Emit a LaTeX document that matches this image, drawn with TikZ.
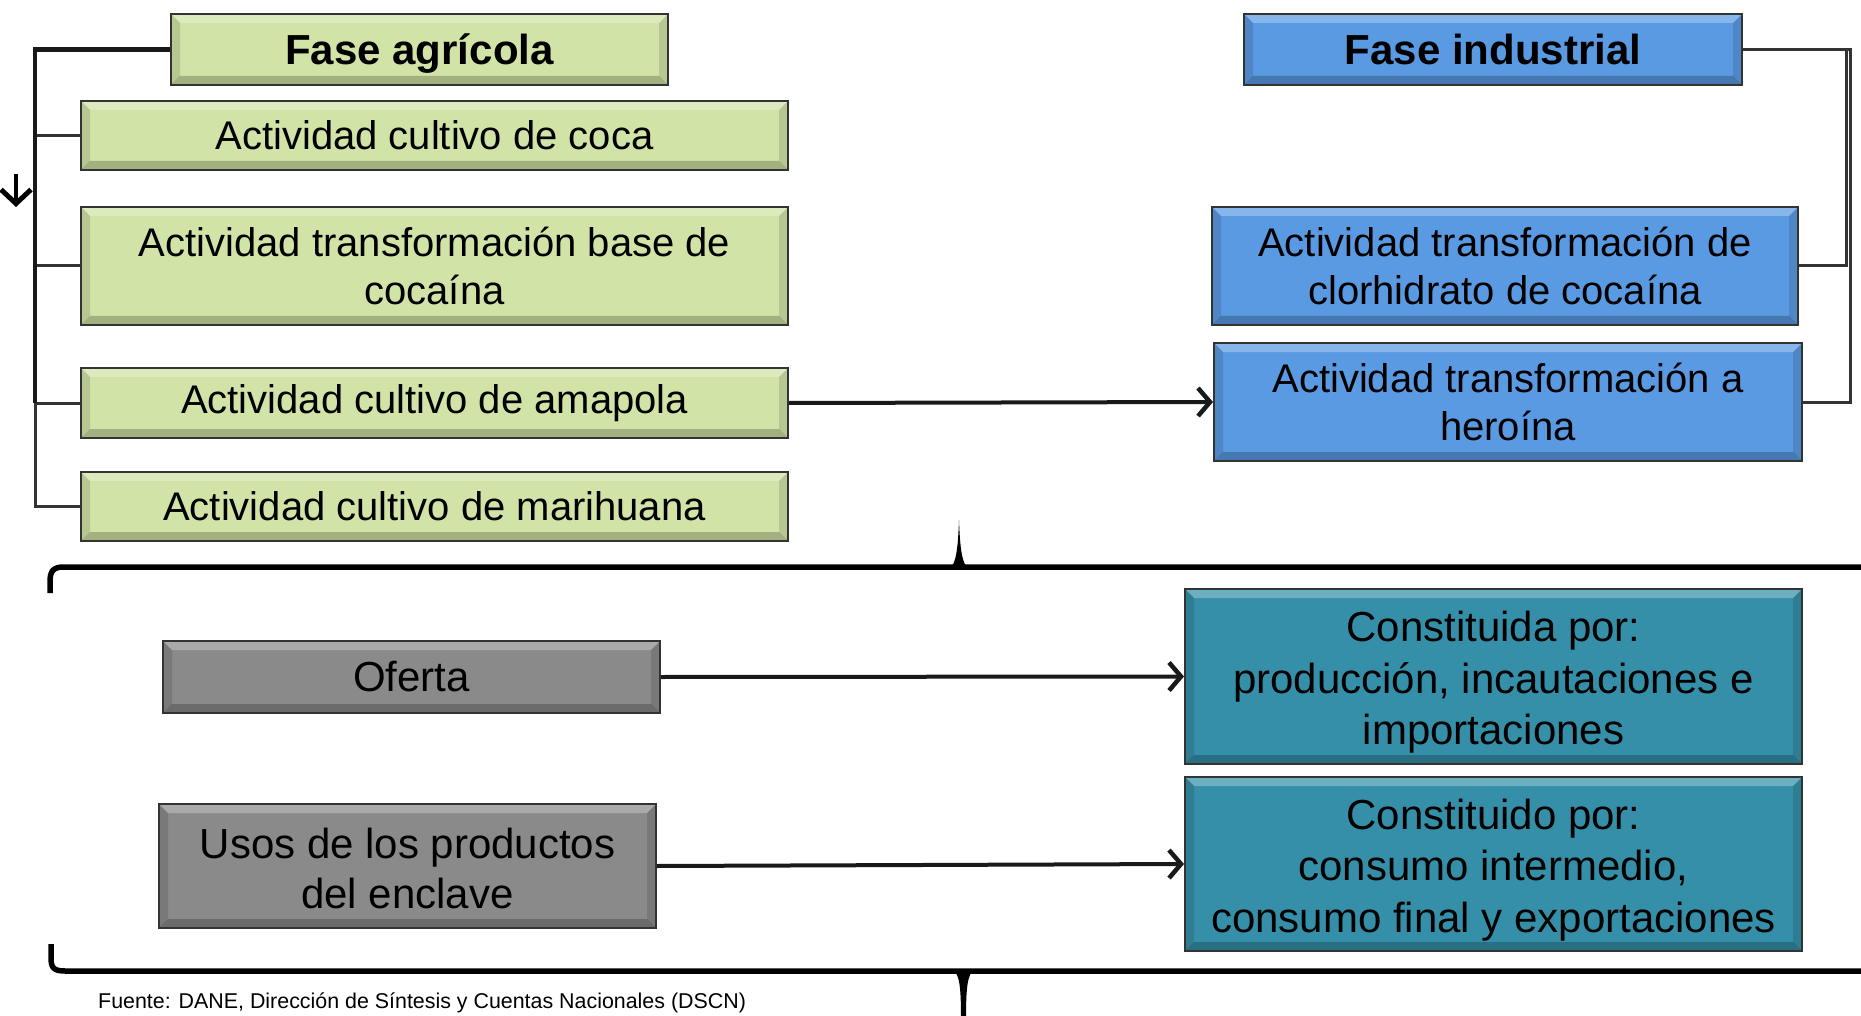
\documentclass[tikz,border=0pt]{standalone}
\usepackage{fontspec}
\setmainfont{Liberation Sans}
\usetikzlibrary{arrows.meta,calc}
\definecolor{gfill}{HTML}{D1E3A6}
\definecolor{bfill}{HTML}{5A9AE2}
\definecolor{tfill}{HTML}{358FA8}
\definecolor{kfill}{HTML}{8A8A8A}
\tikzset{
  bev/.style={draw=black!80, line width=2pt, inner sep=0pt, align=center,
    path picture={
      \fill[white,opacity=0.28] (path picture bounding box.north west) -- (path picture bounding box.north east)
        -- ([xshift=-9pt,yshift=-9pt]path picture bounding box.north east) -- ([xshift=9pt,yshift=-9pt]path picture bounding box.north west) -- cycle;
      \fill[black,opacity=0.22] (path picture bounding box.south west) -- (path picture bounding box.south east)
        -- ([xshift=-9pt,yshift=9pt]path picture bounding box.south east) -- ([xshift=9pt,yshift=9pt]path picture bounding box.south west) -- cycle;
      \fill[black,opacity=0.12] (path picture bounding box.north west) -- (path picture bounding box.south west)
        -- ([xshift=9pt,yshift=9pt]path picture bounding box.south west) -- ([xshift=9pt,yshift=-9pt]path picture bounding box.north west) -- cycle;
      \fill[black,opacity=0.12] (path picture bounding box.north east) -- (path picture bounding box.south east)
        -- ([xshift=-9pt,yshift=9pt]path picture bounding box.south east) -- ([xshift=-9pt,yshift=-9pt]path picture bounding box.north east) -- cycle;
    }},
  gbox/.style={bev, fill=gfill, font=\fontsize{40}{47.5}\selectfont},
  bbox/.style={bev, fill=bfill, font=\fontsize{40}{47.5}\selectfont},
  tbox/.style={bev, fill=tfill, font=\fontsize{42}{51.5}\selectfont},
  kbox/.style={bev, fill=kfill, font=\fontsize{42}{50}\selectfont},
  headg/.style={gbox, font=\fontsize{42}{50}\selectfont\bfseries},
  headb/.style={bbox, font=\fontsize{42}{50}\selectfont\bfseries},
  brkthick/.style={draw=black!90, line width=4.5pt},
  brkthin/.style={draw=black!80, line width=3pt},
  arr/.style={draw=black!90, line width=4pt, -{Straight Barb[length=12pt,width=28pt,line width=4.5pt]}},
}
\newcommand{\downtext}[3]{\parbox{#1}{\centering\vspace*{#2}#3}}
\begin{document}
\begin{tikzpicture}[x=1pt,y=-1pt]
\useasboundingbox (0,0) rectangle (1861,1016);

% nodes
\node[headg, minimum width=497, minimum height=71, text depth=-10pt] (agr) at (419.5,49.5) {Fase agrícola};
\node[gbox, minimum width=707, minimum height=69] (coca) at (434.5,135.5) {Actividad cultivo de coca};
\node[gbox, minimum width=707, minimum height=118] (base) at (434.5,266) {Actividad transformación base de\\cocaína};
\node[gbox, minimum width=707, minimum height=70] (amap) at (434.5,403) {Actividad cultivo de amapola};
\node[gbox, minimum width=707, minimum height=69] (mari) at (434.5,506.5) {Actividad cultivo de marihuana};

\node[headb, minimum width=498, minimum height=71, text depth=-5pt] (ind) at (1493,49.5) {Fase industrial};
\node[bbox, minimum width=586, minimum height=118] (clor) at (1505,266) {Actividad transformación de\\clorhidrato de cocaína};
\node[bbox, minimum width=588, minimum height=118] (hero) at (1508,402) {Actividad transformación a\\heroína};

\node[kbox, minimum width=497, minimum height=72] (ofe) at (411.5,677) {Oferta};
\node[kbox, minimum width=497, minimum height=124] (usos) at (407.5,866) {\downtext{480pt}{5pt}{Usos de los productos\\del enclave}};
\node[tbox, minimum width=617, minimum height=175] (cpa) at (1493.5,676.5) {\downtext{605pt}{12pt}{Constituida por:\\producción, incautaciones e\\importaciones}};
\node[tbox, minimum width=617, minimum height=174] (cpo) at (1493.5,864) {\downtext{605pt}{12pt}{Constituido por:\\consumo intermedio,\\consumo final y exportaciones}};

% left bracket
\coordinate (lbx) at (35,0);
\draw[brkthin] (coca.west -| lbx) -- (coca.west);
\draw[brkthin] (base.west -| lbx) -- (base.west);
\draw[brkthin] (amap.west -| lbx) -- (amap.west);
\draw[brkthin] (amap.west -| lbx) -- (mari.west -| lbx) -- (mari.west);
\draw[brkthick] (agr.west) -- (agr.west -| lbx) -- (amap.west -| lbx);
\coordinate (da1) at (16,174);
\coordinate (da2) at (16,207);
\draw[line width=4.5pt, -{Straight Barb[length=14pt,width=30pt,line width=5pt]}] (da1) -- (da2);

% right bracket
\coordinate (rbx) at (1846,0);
\coordinate (rbx2) at (1850,0);
\draw[brkthin] (ind.east) -- (ind.east -| rbx2) -- (hero.east -| rbx2) -- (hero.east);
\draw[brkthin] (ind.east -| rbx) -- (clor.east -| rbx) -- (clor.east);

% arrows
\draw[arr] (amap.east) -- (hero.west);
\draw[arr] (ofe.east) -- (cpa.west);
\draw[arr] (usos.east) -- (cpo.west);

% top brace
\draw[line width=5.5pt] (50,593) -- (50,582) .. controls (50,571) and (53,567) .. (64,567) -- (1870,567);
\fill (949,568) .. controls (956,566) and (958,548) .. (959,520) .. controls (960,548) and (962,566) .. (969,568) -- cycle;

% bottom brace
\draw[line width=5.5pt] (51,944) -- (51,958) .. controls (51,968) and (54,971) .. (65,971) -- (1870,971);
\fill (952,970) .. controls (960,972) and (961,990) .. (961,1020) -- (966,1020) .. controls (966,990) and (967,972) .. (975,970) -- cycle;

% source
\node[anchor=west, inner sep=0pt, font=\fontsize{21.4}{25}\selectfont] (src) at (98,1003) {Fuente: DANE, Dirección de Síntesis y Cuentas Nacionales (DSCN)};
\end{tikzpicture}
\end{document}
